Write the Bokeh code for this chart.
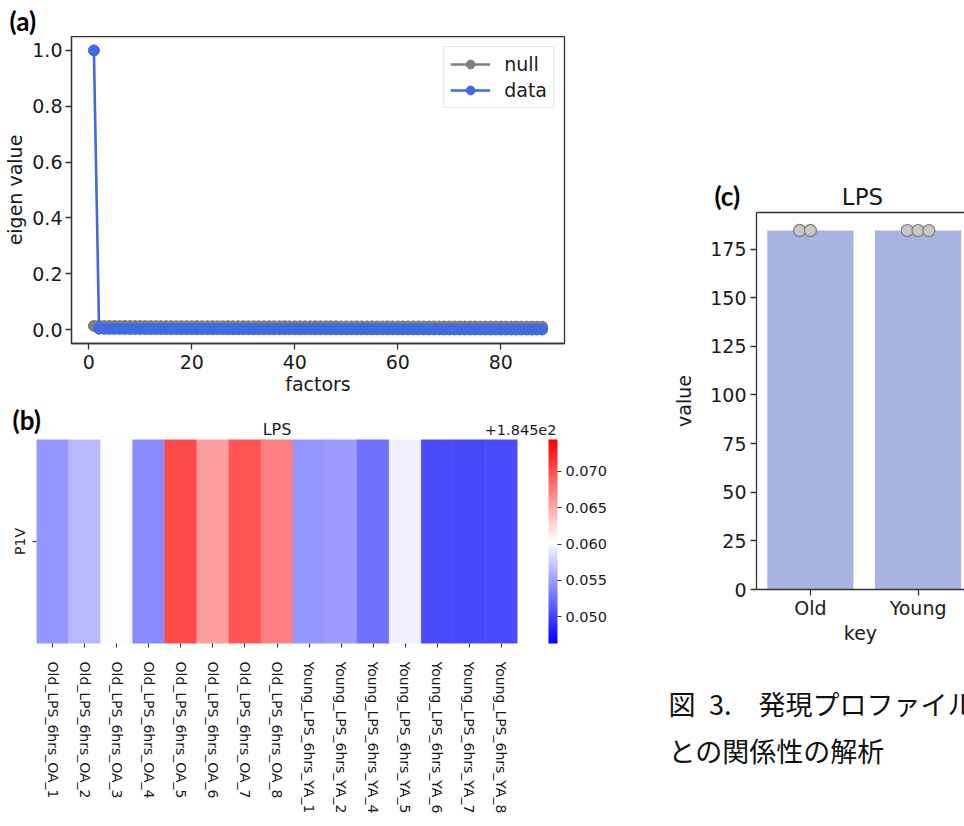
from bokeh.plotting import figure
from bokeh.layouts import row, column
from bokeh.models import (Range1d, FixedTicker, Legend, LegendItem, ColumnDataSource,
                          LinearColorMapper, ColorBar, LinearAxis, PrintfTickFormatter)
from bokeh.core.properties import value
from bokeh.embed import file_html
from bokeh.resources import INLINE

FONT = "DejaVu Sans"
TXT = "#1a1a1a"
LINE = "#333333"

# ---------------- data: panel (a) ----------------
factors = list(range(1, 89))
null_eigen = [0.0128, 0.0127, 0.0126, 0.0126, 0.0125, 0.0125, 0.0124, 0.0124, 0.0123, 0.0123,
              0.0123, 0.0122, 0.0122, 0.0122, 0.0121, 0.0121, 0.0121, 0.0120, 0.0120, 0.0120,
              0.0120, 0.0119, 0.0119, 0.0119, 0.0119, 0.0118, 0.0118, 0.0118, 0.0118, 0.0117,
              0.0117, 0.0117, 0.0117, 0.0116, 0.0116, 0.0116, 0.0116, 0.0116, 0.0115, 0.0115,
              0.0115, 0.0115, 0.0115, 0.0114, 0.0114, 0.0114, 0.0114, 0.0114, 0.0113, 0.0113,
              0.0113, 0.0113, 0.0113, 0.0112, 0.0112, 0.0112, 0.0112, 0.0112, 0.0111, 0.0111,
              0.0111, 0.0111, 0.0111, 0.0110, 0.0110, 0.0110, 0.0110, 0.0110, 0.0109, 0.0109,
              0.0109, 0.0109, 0.0108, 0.0108, 0.0108, 0.0108, 0.0107, 0.0107, 0.0107, 0.0106,
              0.0106, 0.0106, 0.0105, 0.0105, 0.0104, 0.0104, 0.0103, 0.0102]
data_eigen = [1.0, 0.0031, 0.0028, 0.0026, 0.0025, 0.0024, 0.0023, 0.0022, 0.0022, 0.0021,
              0.0021, 0.0020, 0.0020, 0.0019, 0.0019, 0.0019, 0.0018, 0.0018, 0.0018, 0.0017,
              0.0017, 0.0017, 0.0016, 0.0016, 0.0016, 0.0016, 0.0015, 0.0015, 0.0015, 0.0015,
              0.0014, 0.0014, 0.0014, 0.0014, 0.0013, 0.0013, 0.0013, 0.0013, 0.0012, 0.0012,
              0.0012, 0.0012, 0.0011, 0.0011, 0.0011, 0.0011, 0.0011, 0.0010, 0.0010, 0.0010,
              0.0010, 0.0009, 0.0009, 0.0009, 0.0009, 0.0009, 0.0008, 0.0008, 0.0008, 0.0008,
              0.0007, 0.0007, 0.0007, 0.0007, 0.0006, 0.0006, 0.0006, 0.0006, 0.0005, 0.0005,
              0.0005, 0.0005, 0.0004, 0.0004, 0.0004, 0.0004, 0.0003, 0.0003, 0.0003, 0.0003,
              0.0002, 0.0002, 0.0002, 0.0002, 0.0001, 0.0001, 0.0001, 0.0000]
factor_ticks = [0, 20, 40, 60, 80]
eigen_ticks = [0.0, 0.2, 0.4, 0.6, 0.8, 1.0]

# ---------------- data: panel (b) ----------------
samples = ["Old_LPS_6hrs_OA_1", "Old_LPS_6hrs_OA_2", "Old_LPS_6hrs_OA_3", "Old_LPS_6hrs_OA_4",
           "Old_LPS_6hrs_OA_5", "Old_LPS_6hrs_OA_6", "Old_LPS_6hrs_OA_7", "Old_LPS_6hrs_OA_8",
           "Young_LPS_6hrs_YA_1", "Young_LPS_6hrs_YA_2", "Young_LPS_6hrs_YA_4", "Young_LPS_6hrs_YA_5",
           "Young_LPS_6hrs_YA_6", "Young_LPS_6hrs_YA_7", "Young_LPS_6hrs_YA_8"]
heat_row = ["P1V"]
heat_title = "LPS"
heat_offset_text = "+1.845e2"
heat_delta = [0.0546, 0.0564, 0.0601, 0.0539, 0.0703, 0.0656, 0.0697, 0.0673,
              0.0546, 0.0549, 0.0525, 0.0595, 0.0505, 0.0503, 0.0505]
cbar_ticks = [0.050, 0.055, 0.060, 0.065, 0.070]
cbar_low, cbar_high = 0.0463, 0.0744

# ---------------- data: panel (c) ----------------
keys = ["Old", "Young"]
key_means = [184.562, 184.553]
old_points = [184.56, 184.56]
old_jitter = [-0.1, 0.0]
young_points = [184.55, 184.55, 184.55]
young_jitter = [-0.1, 0.0, 0.1]
value_ticks = [0, 25, 50, 75, 100, 125, 150, 175]
bar_title = "LPS"

caption_lines = ["図\u20023.　発現プロファイル", "との関係性の解析"]


def style_axis(ax, size, tick_out=6, lw=1.3):
    ax.major_label_text_font = FONT
    ax.major_label_text_font_size = size
    ax.major_label_text_color = TXT
    ax.axis_label_text_font = FONT
    ax.axis_label_text_font_size = size
    ax.axis_label_text_font_style = "normal"
    ax.axis_label_text_color = TXT
    ax.axis_line_color = LINE
    ax.axis_line_width = lw
    ax.major_tick_line_color = LINE
    ax.major_tick_line_width = lw
    ax.major_tick_in = 0
    ax.major_tick_out = tick_out
    ax.minor_tick_line_color = None


def text_fig(w, h):
    """A bare figure whose units are pixels measured from its top-left corner."""
    f = figure(width=w, height=h, x_range=Range1d(0, w), y_range=Range1d(h, 0),
               x_axis_type=None, y_axis_type=None, min_border=0,
               output_backend="svg", toolbar_location=None)
    f.grid.visible = False
    f.outline_line_color = None
    f.background_fill_alpha = 0
    f.border_fill_alpha = 0
    return f


def put(f, x, y, txt, size, font=FONT, style="normal", align="left", baseline="middle", color=TXT):
    f.text(x=[x], y=[y], text=[txt], text_font=value(font), text_font_size=size,
           text_font_style=style, text_align=align, text_baseline=baseline, text_color=color)


def panel_tag(f, x, y, txt):
    put(f, x, y, txt, "26px", font="Lato", style="bold", color="#000000")


# ================= panel (a) =================
ta = text_fig(648, 36)
panel_tag(ta, 9, 20, "(a)")

pa = figure(frame_width=493, frame_height=307, min_border_left=71, min_border_right=84,
            min_border_top=0, min_border_bottom=56,
            x_range=Range1d(-3.35, 92.35), y_range=Range1d(-0.05, 1.05),
            output_backend="svg", toolbar_location=None)
src_a = ColumnDataSource(dict(f=factors, null=null_eigen, data=data_eigen))
ln = pa.line("f", "null", source=src_a, line_color="#808080", line_width=2.6)
cn = pa.scatter("f", "null", source=src_a, size=11, fill_color="#808080", line_color="#808080")
ld = pa.line("f", "data", source=src_a, line_color="#4169e1", line_width=2.6)
cd = pa.scatter("f", "data", source=src_a, size=11, fill_color="#4169e1", line_color="#4169e1")
pa.grid.visible = False
pa.outline_line_color = LINE
pa.outline_line_width = 1.3
pa.xaxis.ticker = FixedTicker(ticks=factor_ticks)
pa.yaxis.ticker = FixedTicker(ticks=eigen_ticks)
pa.yaxis.formatter = PrintfTickFormatter(format="%.1f")
pa.xaxis.axis_label = "factors"
pa.yaxis.axis_label = "eigen value"
for ax in pa.xaxis + pa.yaxis:
    style_axis(ax, "19px")
pa.xaxis.major_label_standoff = 5
pa.xaxis.axis_label_standoff = 1
pa.yaxis.major_label_standoff = 3
pa.yaxis.axis_label_standoff = 3
leg = Legend(items=[LegendItem(label="null", renderers=[ln, cn]),
                    LegendItem(label="data", renderers=[ld, cd])],
             location="top_right", margin=10, padding=6, spacing=4,
             glyph_width=40, glyph_height=22, label_standoff=14, label_height=22,
             label_text_font=FONT, label_text_font_size="19px", label_text_color=TXT,
             border_line_color="#d4d4d4", border_line_width=1.2,
             background_fill_alpha=0.85)
pa.add_layout(leg)

# ================= panel (b) =================
def bwr(t):
    if t < 0.5:
        r = g = 2 * t
        b = 1.0
    else:
        r = 1.0
        g = b = 2 * (1 - t)
    return "#%02x%02x%02x" % (round(r * 255), round(g * 255), round(b * 255))

bwr_palette = [bwr(i / 255) for i in range(256)]
mapper = LinearColorMapper(palette=bwr_palette, low=cbar_low, high=cbar_high)

tb = text_fig(648, 40)
panel_tag(tb, 12, 20, "(b)")
put(tb, 276.5, 30.3, heat_title, "16px", align="center")
put(tb, 556, 30, heat_offset_text, "14.5px", align="right")

pb = figure(x_range=samples, y_range=heat_row, frame_width=481, frame_height=204,
            min_border_left=36, min_border_right=131, min_border_top=0, min_border_bottom=178,
            output_backend="svg", toolbar_location=None)
src_b = ColumnDataSource(dict(sample=samples, row=heat_row * len(samples), delta=heat_delta))
pb.rect(x="sample", y="row", width=1, height=1, source=src_b,
        fill_color={"field": "delta", "transform": mapper},
        line_color={"field": "delta", "transform": mapper}, line_width=0.6)
pb.grid.visible = False
pb.outline_line_color = None
for ax in pb.xaxis + pb.yaxis:
    style_axis(ax, "14px", tick_out=4, lw=1.1)
    ax.axis_line_color = None
pb.xaxis.major_label_orientation = "vertical"
pb.xaxis.major_label_standoff = 14
pb.yaxis.major_label_orientation = "vertical"
pb.yaxis.major_label_standoff = 5

cb = ColorBar(color_mapper=mapper, ticker=FixedTicker(ticks=cbar_ticks),
              formatter=PrintfTickFormatter(format="%.3f"),
              width=9, height=204, location=(31, 0), padding=0, margin=0,
              major_label_text_font=FONT, major_label_text_font_size="14.5px",
              major_label_text_color=TXT, label_standoff=4,
              major_tick_in=0, major_tick_out=4, major_tick_line_color=LINE,
              minor_tick_line_color=None, bar_line_color=None,
              border_line_color=None, background_fill_alpha=0)
pb.add_layout(cb, "right")

# ================= panel (c) =================
tc = text_fig(316, 210)
panel_tag(tc, 66, 195, "(c)")
put(tc, 214, 196.5, bar_title, "23px", align="center")

key_idx = list(range(len(keys)))
pc = figure(frame_width=208, frame_height=377, min_border_left=108, min_border_right=0,
            min_border_top=2, min_border_bottom=61,
            x_range=Range1d(-0.5, 1.431), y_range=Range1d(0, 193.8),
            output_backend="svg", toolbar_location=None)
pc.vbar(x=key_idx, top=key_means, width=0.8, fill_color="#a7b4e2", line_color=None)
pc.scatter([key_idx[0] + j for j in old_jitter], old_points, size=12,
           fill_color="#c8c8c8", line_color="#7d7d7d", line_width=1.2)
pc.scatter([key_idx[1] + j for j in young_jitter], young_points, size=12,
           fill_color="#c8c8c8", line_color="#7d7d7d", line_width=1.2)
pc.grid.visible = False
pc.outline_line_color = None
pc.xaxis.ticker = FixedTicker(ticks=key_idx)
pc.xaxis.major_label_overrides = {i: k for i, k in zip(key_idx, keys)}
pc.yaxis.ticker = FixedTicker(ticks=value_ticks)
pc.xaxis.axis_label = "key"
pc.yaxis.axis_label = "value"
for ax in pc.xaxis + pc.yaxis:
    style_axis(ax, "19px")
pc.xaxis.major_label_standoff = 1
pc.xaxis.axis_label_standoff = 0
pc.yaxis.major_label_standoff = 4
pc.yaxis.axis_label_standoff = 12
top_spine = LinearAxis(ticker=FixedTicker(ticks=[]), major_label_text_font_size="0px",
                       major_label_standoff=0, major_tick_out=0, major_tick_in=0,
                       axis_line_color=LINE, axis_line_width=1.3,
                       major_tick_line_color=None, minor_tick_line_color=None)
pc.add_layout(top_spine, "above")

# ================= caption =================
pcap = text_fig(316, 173)
put(pcap, 20, 53, caption_lines[0], "27px", font="Noto Sans CJK JP", color="#111111")
put(pcap, 20, 100, caption_lines[1], "27px", font="Noto Sans CJK JP", color="#111111")

left = column(row(ta), row(pa), row(tb), row(pb))
right = column(row(tc), row(pc), row(pcap))
layout = row(left, right)

open("out.html", "w").write(file_html(layout, INLINE))
